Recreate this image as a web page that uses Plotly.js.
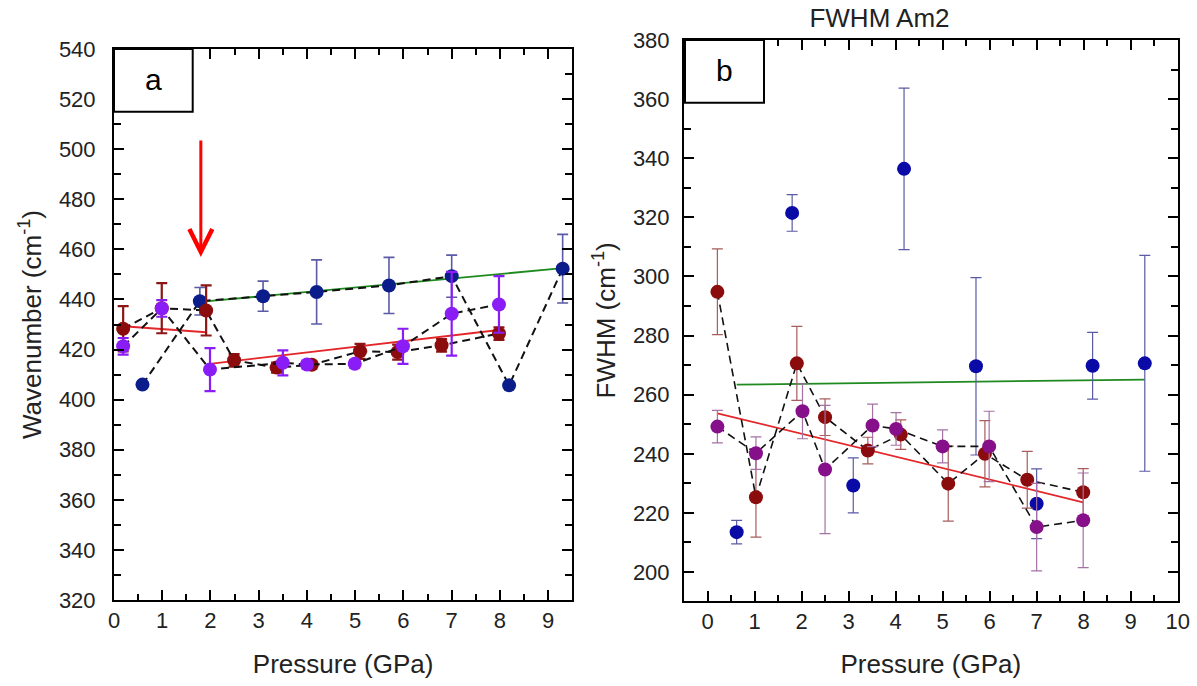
<!DOCTYPE html>
<html>
<head>
<meta charset="utf-8">
<script src="https://cdn.plot.ly/plotly-3.0.1.min.js"></script>
<style>html,body{margin:0;padding:0;background:#fff;}#chart{width:1197px;height:686px;}</style>
</head>
<body>
<div id="chart"></div>
<script>
// ---------- Panel a : Wavenumber ----------
const aBlueX = [0.59, 1.78, 3.09, 4.2, 5.7, 7.0, 8.19, 9.3];
const aBlueY = [406, 439.3, 441.3, 443, 445.6, 449.3, 405.7, 452.3];
const aBlueE = [0, 5.5, 6, 12.8, 11.2, 8.4, 0, 13.7];

const aRedX = [0.19, 0.99, 1.91, 2.49, 3.37, 4.1, 5.1, 5.88, 6.79, 7.98];
const aRedY = [428.3, 436.5, 435.6, 415.7, 412.8, 413.9, 419.3, 419, 421.7, 426.4];
const aRedE = [9, 10, 10, 2.5, 2, 1.5, 3, 3, 2.5, 2.5];

const aPurX = [0.19, 0.99, 1.99, 3.5, 4.0, 4.99, 5.99, 7.0, 7.98];
const aPurY = [421.3, 436.4, 412, 414.7, 414, 414.3, 421.3, 434.3, 438];
const aPurE = [3.3, 3.3, 8.6, 5, 1.5, 1.5, 7, 16.7, 11.3];

const aGreenFitX = [1.78, 9.3];
const aGreenFitY = [439, 452.5];
const aRedFit1X = [0.19, 1.91];
const aRedFit1Y = [429.3, 426.9];
const aRedFit2X = [1.99, 7.98];
const aRedFit2Y = [414.3, 427.8];

// ---------- Panel b : FWHM Am2 ----------
const bBlueX = [0.62, 1.8, 3.1, 4.18, 5.71, 7.0, 8.19, 9.3];
const bBlueY = [213.5, 321.5, 229.3, 336.4, 269.6, 223.1, 269.8, 270.6];
const bBlueE = [4, 6.2, 9.3, 27.3, 30, 11.8, 11.3, 36.5];

const bRedX = [0.21, 1.03, 1.9, 2.5, 3.41, 4.11, 5.12, 5.9, 6.8, 7.99];
const bRedY = [294.8, 225.3, 270.6, 252.4, 241.1, 246.5, 229.9, 240, 231.2, 227];
const bRedE = [14.5, 13.5, 12.5, 6.2, 4.5, 5, 12.7, 11.2, 9.6, 8];

const bPurX = [0.21, 1.03, 2.02, 2.5, 3.51, 4.01, 5.0, 5.99, 7.0, 7.99];
const bPurY = [249.2, 240.2, 254.4, 234.7, 249.6, 248.4, 242.5, 242.5, 215.2, 217.5];
const bPurE = [5.5, 5.5, 9.3, 21.7, 7.2, 5.5, 5.6, 11.9, 14.8, 16];

const bGreenFitX = [0.62, 9.3];
const bGreenFitY = [263.4, 265.1];
const bRedFitX = [0.21, 7.99];
const bRedFitY = [253.7, 223.6];

const panelLabels = ['a', 'b'];
const panelBTitle = 'FWHM Am2';

const FONT = 'Liberation Sans';
const DASH = '8px,5px';

function fit(x, y, color, xa, ya) {
  return {x: x, y: y, xaxis: xa, yaxis: ya, mode: 'lines', type: 'scatter',
          line: {color: color, width: 1.8}, hoverinfo: 'skip'};
}
function series(x, y, e, mcol, ecol, ethick, dashed, lw, xa, ya) {
  return {x: x, y: y, xaxis: xa, yaxis: ya, type: 'scatter',
          mode: dashed ? 'lines+markers' : 'markers',
          line: {color: '#111', width: lw, dash: DASH},
          marker: {color: mcol, size: 14},
          error_y: {type: 'data', array: e, visible: true, color: ecol, thickness: ethick, width: 5.5}};
}

const data = [
  fit(aGreenFitX, aGreenFitY, '#1f8a1f', 'x', 'y'),
  fit(aRedFit1X, aRedFit1Y, '#e3262a', 'x', 'y'),
  fit(aRedFit2X, aRedFit2Y, '#e3262a', 'x', 'y'),
  series(aBlueX, aBlueY, aBlueE, '#0b1d8a', '#5a5aa6', 1.6, true, 2, 'x', 'y'),
  series(aRedX, aRedY, aRedE, '#8b0c0c', '#8b1616', 2.2, true, 2, 'x', 'y'),
  series(aPurX, aPurY, aPurE, '#8a1cf5', '#8a1cf5', 2.2, true, 2, 'x', 'y'),

  fit(bGreenFitX, bGreenFitY, '#1f8a1f', 'x2', 'y2'),
  fit(bRedFitX, bRedFitY, '#e3262a', 'x2', 'y2'),
  series(bBlueX, bBlueY, bBlueE, '#0a0aa6', '#5a5aa6', 1.2, false, 1.6, 'x2', 'y2'),
  series(bRedX, bRedY, bRedE, '#8b0c0c', '#a85c5c', 1.2, true, 1.6, 'x2', 'y2'),
  series(bPurX, bPurY, bPurE, '#86108a', '#a572a5', 1.2, true, 1.6, 'x2', 'y2')
];

function axisBase() {
  return {showgrid: false, zeroline: false, showline: true, linecolor: '#000', linewidth: 2,
          mirror: 'ticks', ticks: 'inside', ticklen: 10, tickwidth: 2, tickcolor: '#000',
          tickfont: {family: FONT, size: 22, color: '#222'}};
}

const W = 1197, H = 686;
const px = v => v / W, py = v => 1 - v / H;

const layout = {
  width: W, height: H, margin: {l: 0, r: 0, t: 0, b: 0},
  paper_bgcolor: '#fff', plot_bgcolor: '#fff', showlegend: false,
  font: {family: FONT, color: '#222'},
  title: {text: panelBTitle, font: {family: FONT, size: 26, color: '#222'},
          x: px(879.5), xref: 'paper', xanchor: 'center', y: py(18), yref: 'container', yanchor: 'middle'},
  xaxis: Object.assign(axisBase(), {domain: [px(114), px(572.3)], range: [0, 9.5], dtick: 1, anchor: 'y',
    minor: {dtick: 0.5, ticks: 'inside', ticklen: 6, tickwidth: 2, tickcolor: '#000'},
    title: {text: 'Pressure (GPa)', font: {family: FONT, size: 26, color: '#222'}, standoff: 22}}),
  yaxis: Object.assign(axisBase(), {domain: [py(600), py(49)], range: [320, 540], dtick: 20, anchor: 'x',
    ticklabelstandoff: 12,
    minor: {dtick: 10, ticks: 'inside', ticklen: 7, tickwidth: 2, tickcolor: '#000'},
    title: {text: 'Wavenumber (cm<sup>-1</sup>)', font: {family: FONT, size: 26, color: '#222'}, standoff: 10}}),
  xaxis2: Object.assign(axisBase(), {domain: [px(684), px(1177.7)], range: [-0.5, 10], dtick: 1, anchor: 'y2',
    minor: {dtick: 0.5, ticks: 'inside', ticklen: 6, tickwidth: 2, tickcolor: '#000'},
    title: {text: 'Pressure (GPa)', font: {family: FONT, size: 26, color: '#222'}, standoff: 22}}),
  yaxis2: Object.assign(axisBase(), {domain: [py(600.7), py(40)], range: [190.3, 380], dtick: 20, anchor: 'x2',
    ticklabelstandoff: 8,
    minor: {dtick: 10, ticks: 'inside', ticklen: 7, tickwidth: 2, tickcolor: '#000'},
    title: {text: 'FWHM (cm<sup>-1</sup>)', font: {family: FONT, size: 26, color: '#222'}, standoff: 10}}),
  shapes: [
    {type: 'rect', xref: 'paper', yref: 'paper', x0: px(114), x1: px(192.7), y0: py(111.7), y1: py(49),
     line: {color: '#000', width: 2}, fillcolor: '#fff', layer: 'above'},
    {type: 'rect', xref: 'paper', yref: 'paper', x0: px(685), x1: px(764), y0: py(102.7), y1: py(40),
     line: {color: '#000', width: 2}, fillcolor: '#fff', layer: 'above'}
  ],
  annotations: [
    {xref: 'paper', yref: 'paper', x: px(153.3), y: py(80), xanchor: 'center', yanchor: 'middle',
     text: panelLabels[0], showarrow: false, font: {family: FONT, size: 30, color: '#000'}},
    {xref: 'paper', yref: 'paper', x: px(724.5), y: py(71), xanchor: 'center', yanchor: 'middle',
     text: panelLabels[1], showarrow: false, font: {family: FONT, size: 30, color: '#000'}},
    {xref: 'x', yref: 'y', x: 1.8, y: 457, ax: 0, ay: -118, showarrow: true, text: '',
     arrowhead: 5, arrowsize: 1.5, arrowwidth: 3, arrowcolor: '#ff0000'}
  ]
};

Plotly.newPlot('chart', data, layout, {displayModeBar: false, staticPlot: true});
</script>
</body>
</html>
